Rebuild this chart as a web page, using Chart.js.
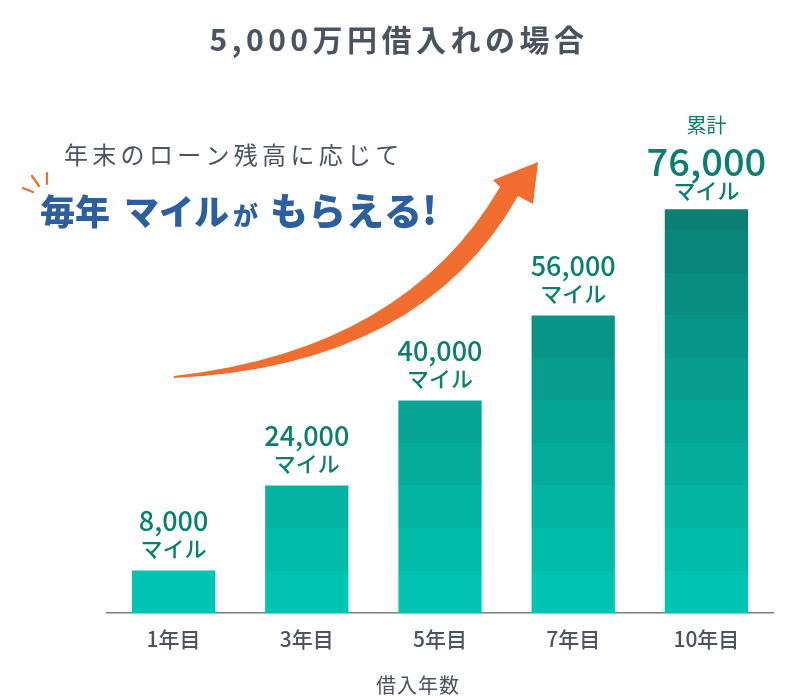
<!DOCTYPE html>
<html>
<head>
<meta charset="utf-8">
<script src="https://cdn.jsdelivr.net/npm/chart.js@4/dist/chart.umd.min.js"></script>
<style>
  html, body { margin: 0; padding: 0; background: #fff; }
  canvas { display: block; }
</style>
</head>
<body>
<canvas id="chart-area" width="800" height="700"></canvas>
<script>
// データ
const categories = ['1年目', '3年目', '5年目', '7年目', '10年目'];
const miles = [8000, 24000, 40000, 56000, 76000];
const unitLabel = 'マイル';
const totalLabel = '累計';
const chartTitle = '5,000万円借入れの場合';
const axisTitle = '借入年数';
const leadText = '年末のローン残高に応じて';
const catchParts = ['毎年', 'マイル', 'が', 'もらえる!'];
const bandStep = 8000;   // 帯1本ぶんのマイル数

const FONT = "'Noto Sans CJK JP', 'Noto Sans', sans-serif";
const grey = '#4a5361';
const teal = '#0a7e6f';
const blue = '#2c5f9f';
const orange = '#f06c2f';

// 下から上への帯の色
const bandColors = ['#00c4b1', '#02bcaa', '#03b4a3', '#04ac9c', '#05a495',
                    '#069c8e', '#079587', '#088d80', '#098679', '#0a7f72'];

function bandGradient(context) {
  const chart = context.chart;
  const area = chart.chartArea;
  if (!area) return bandColors[0];
  const y = chart.scales.y;
  const y0 = y.getPixelForValue(0);
  const y1 = y.getPixelForValue(bandStep * bandColors.length);
  const g = chart.ctx.createLinearGradient(0, y0, 0, y1);
  const n = bandColors.length;
  bandColors.forEach((c, i) => {
    g.addColorStop(i / n, c);
    g.addColorStop((i + 1) / n, c);
  });
  return g;
}

// タイトル・吹き出し・矢印・ラベルを描く
const decoPlugin = {
  id: 'deco',
  afterDraw(chart) {
    const ctx = chart.ctx;
    const meta = chart.getDatasetMeta(0);
    ctx.save();
    ctx.textAlign = 'center';
    ctx.textBaseline = 'middle';

    // タイトル
    ctx.fillStyle = grey;
    ctx.font = '700 30px ' + FONT;
    ctx.letterSpacing = '4.5px';
    ctx.fillText(chartTitle, 399, 40);
    ctx.letterSpacing = '0px';

    // 軸タイトル
    ctx.font = '400 20px ' + FONT;
    ctx.letterSpacing = '1px';
    ctx.fillText(axisTitle, 418, 685);
    ctx.letterSpacing = '0px';

    // 値ラベル
    meta.data.forEach((bar, i) => {
      const last = i === miles.length - 1;
      const txt = miles[i].toLocaleString('en-US');
      ctx.fillStyle = teal;
      ctx.font = '500 22px ' + FONT;
      ctx.fillText(unitLabel, bar.x, bar.y - (last ? 19 : 22));
      if (last) {
        ctx.font = '500 38px ' + FONT;
        ctx.fillText(txt, bar.x, bar.y - 48);
        ctx.font = '400 20px ' + FONT;
        ctx.fillText(totalLabel, bar.x, bar.y - 84);
      } else {
        ctx.font = '500 27px ' + FONT;
        ctx.fillText(txt, bar.x, bar.y - 50);
      }
    });

    // リード文
    ctx.textAlign = 'left';
    ctx.fillStyle = grey;
    ctx.font = '400 24px ' + FONT;
    ctx.letterSpacing = '4.3px';
    ctx.fillText(leadText, 64, 155);
    ctx.letterSpacing = '0px';

    // キャッチ
    ctx.fillStyle = blue;
    ctx.textBaseline = 'alphabetic';
    let x = 40;
    const sizes = [35, 35, 25, 38];
    const gaps = [14, 4, 12, 0];
    catchParts.forEach((p, i) => {
      ctx.font = '900 ' + sizes[i] + 'px ' + FONT;
      ctx.fillText(p, x, 225);
      x += ctx.measureText(p).width + gaps[i];
    });

    // 飛び出し線
    ctx.strokeStyle = orange;
    ctx.lineWidth = 2.2;
    ctx.lineCap = 'round';
    [[23, 188, 33, 192], [32, 176, 39, 186], [47, 173, 47, 184]].forEach(s => {
      ctx.beginPath();
      ctx.moveTo(s[0], s[1]);
      ctx.lineTo(s[2], s[3]);
      ctx.stroke();
    });

    // 矢印
    ctx.fillStyle = orange;
    ctx.beginPath();
    ctx.moveTo(174, 376);
    ctx.quadraticCurveTo(405, 350, 500, 187);
    ctx.lineTo(493, 180);
    ctx.lineTo(538, 162);
    ctx.lineTo(533, 204);
    ctx.lineTo(518, 196);
    ctx.quadraticCurveTo(422, 366, 174, 378);
    ctx.closePath();
    ctx.fill();

    ctx.restore();
  }
};

const ctx = document.getElementById('chart-area').getContext('2d');
window.myBar = new Chart(ctx, {
  type: 'bar',
  data: {
    labels: categories,
    datasets: [{
      data: miles,
      backgroundColor: bandGradient,
      borderWidth: 0,
      barPercentage: 0.625,
      categoryPercentage: 1
    }]
  },
  options: {
    responsive: false,
    devicePixelRatio: 1,
    animation: false,
    layout: { padding: { left: 107, right: 27, top: 103, bottom: 0 } },
    plugins: {
      legend: { display: false },
      tooltip: { enabled: false },
      title: { display: false }
    },
    scales: {
      x: {
        grid: { display: false },
        border: { display: true, color: '#7d7d7d', width: 1.5 },
        ticks: {
          color: grey,
          padding: 5,
          font: { family: FONT, size: 21, weight: '500' }
        },
        afterFit(scale) { scale.height = 87; }
      },
      y: {
        display: false,
        min: 0,
        max: 96000
      }
    }
  },
  plugins: [decoPlugin]
});
</script>
</body>
</html>
